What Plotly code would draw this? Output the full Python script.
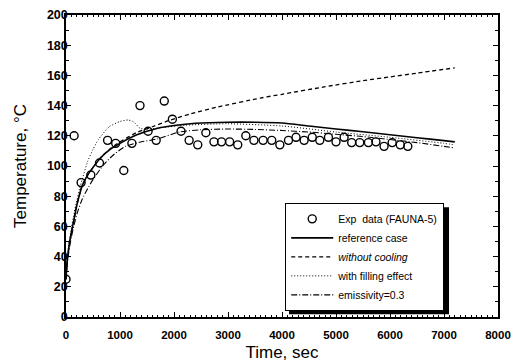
import plotly.graph_objects as go

# Experimental data (FAUNA-5)
exp_t = [0, 150, 280, 460, 620, 770, 920, 1070, 1220, 1370, 1520, 1670, 1820, 1970, 2130,
         2280, 2440, 2590, 2740, 2880, 3030, 3180, 3330, 3480, 3650, 3810, 3960, 4120, 4260,
         4410, 4560, 4700, 4860, 5000, 5150, 5290, 5440, 5600, 5740, 5890, 6040, 6190, 6330]
exp_T = [25, 120, 89, 94, 102, 117, 115, 97, 115, 140, 123, 117, 143, 131, 123,
         117, 114, 122, 116, 116, 116, 114, 120, 117, 117, 117, 114, 117, 119,
         117, 119, 117, 119, 116, 119, 115.5, 115.5, 115.5, 116, 113, 115.5, 114, 113]

# reference case
ref_t = [0, 25, 60, 100, 150, 200, 250, 300, 400, 500, 630, 800, 1000, 1300, 1700, 2000,
         2400, 3000, 3500, 4000, 4500, 5000, 5500, 6000, 6500, 7000, 7200]
ref_T = [25, 38, 48, 56, 65, 74, 81, 87, 94, 99, 105, 110.5, 115, 120.5, 125, 126.8,
         128.3, 129, 129, 128.5, 126.5, 124.5, 122.7, 120.7, 118.7, 116.8, 116]

# without cooling
noc_t = [0, 25, 60, 100, 150, 200, 250, 300, 400, 500, 630, 800, 1000, 1300, 1600, 1900,
         2300, 2800, 3600, 4000, 4800, 5500, 6000, 6500, 7200]
noc_T = [25, 38, 48, 56, 65, 74, 81, 87, 94, 99, 105, 111, 116, 122, 126, 130,
         134.5, 139, 145, 147.5, 152.5, 156.5, 159, 161.5, 165]

# with filling effect
fil_t = [0, 25, 60, 100, 150, 200, 250, 300, 400, 500, 600, 800, 1000, 1150, 1250, 1370,
         1500, 1800, 2200, 3000, 4000, 5000, 6000, 7000, 7200]
fil_T = [25, 39, 50, 59, 69, 77, 85, 91, 103, 111, 117.5, 126, 129.5, 130.5, 129.3, 125,
         124.5, 125.5, 127, 128, 126.5, 122.5, 119, 115, 114]

# emissivity = 0.3
emi_t = [0, 25, 60, 100, 150, 200, 300, 400, 500, 700, 900, 1100, 1400, 1700, 2100, 2500,
         3000, 3500, 4000, 4500, 5000, 5500, 6000, 6500, 7000, 7200]
emi_T = [25, 36, 45, 53, 61, 68, 78, 85, 91, 101, 108, 113, 116, 118, 122.5, 124,
         124.5, 124.2, 123.5, 122.5, 121, 119.5, 117.5, 115.5, 113, 112]

FONT = "Liberation Sans, Arial, sans-serif"

fig = go.Figure()
fig.add_trace(go.Scatter(x=exp_t, y=exp_T, mode="markers", name="Exp  data (FAUNA-5)",
                         marker=dict(symbol="circle-open", size=8, color="black",
                                     line=dict(width=1.4, color="black"))))
fig.add_trace(go.Scatter(x=ref_t, y=ref_T, mode="lines", name="reference case",
                         line=dict(color="black", width=1.6, shape="spline", smoothing=0.6)))
fig.add_trace(go.Scatter(x=noc_t, y=noc_T, mode="lines", name="<i>without cooling</i>",
                         line=dict(color="black", width=1.3, dash="4px,3px", shape="spline", smoothing=0.6)))
fig.add_trace(go.Scatter(x=fil_t, y=fil_T, mode="lines", name="with filling effect",
                         line=dict(color="black", width=1.0, dash="1px,2px", shape="spline", smoothing=0.5)))
fig.add_trace(go.Scatter(x=emi_t, y=emi_T, mode="lines", name="emissivity=0.3",
                         line=dict(color="black", width=1.1, dash="6px,2px,1px,2px", shape="spline", smoothing=0.6)))

axis_common = dict(showline=True, linecolor="black", linewidth=1.5, mirror="allticks",
                   ticks="inside", ticklen=5, tickwidth=1.2, tickcolor="black",
                   showgrid=False, zeroline=False, automargin=False)

fig.update_xaxes(range=[0, 8000], dtick=1000, tick0=0, ticklabelstandoff=6,
                 tickfont=dict(family=FONT, size=11.5, color="black", weight="bold"),
                 title=dict(text="Time, sec", font=dict(family=FONT, size=17, color="black"),
                            standoff=14),
                 minor=dict(ticks="inside", dtick=100, ticklen=2.5, tickwidth=1, tickcolor="black"),
                 **axis_common)
fig.update_yaxes(range=[0, 200], dtick=20, tick0=0, ticklabelstandoff=-6,
                 tickfont=dict(family=FONT, size=12.5, color="black", weight="bold"),
                 title=dict(text="Temperature, °C", font=dict(family=FONT, size=17, color="black"),
                            standoff=16),
                 minor=dict(ticks="inside", dtick=10, ticklen=3, tickwidth=1, tickcolor="black"),
                 **axis_common)

# legend position (paper coords) and its drop shadow
PW, PH = 432.0, 302.0          # plot area size in px
lx, ly = 0.507, 0.377
lw_px, lh_px, sh = 160, 107, 4
fig.add_shape(type="rect", xref="paper", yref="paper",
              x0=lx + sh / PW, x1=lx + (lw_px + sh) / PW,
              y0=ly - (lh_px + sh) / PH, y1=ly - sh / PH,
              fillcolor="black", line=dict(width=0), layer="above")

fig.update_layout(
    width=522, height=362,
    margin=dict(l=66, r=24, t=15, b=45),
    paper_bgcolor="white", plot_bgcolor="white",
    font=dict(family=FONT, color="black"),
    showlegend=True,
    legend=dict(x=lx, y=ly, xanchor="left", yanchor="top",
                bgcolor="white", bordercolor="black", borderwidth=1.2,
                font=dict(family=FONT, size=10.5, color="black"),
                itemwidth=42, tracegroupgap=0),
)

fig.write_html("out.html")
